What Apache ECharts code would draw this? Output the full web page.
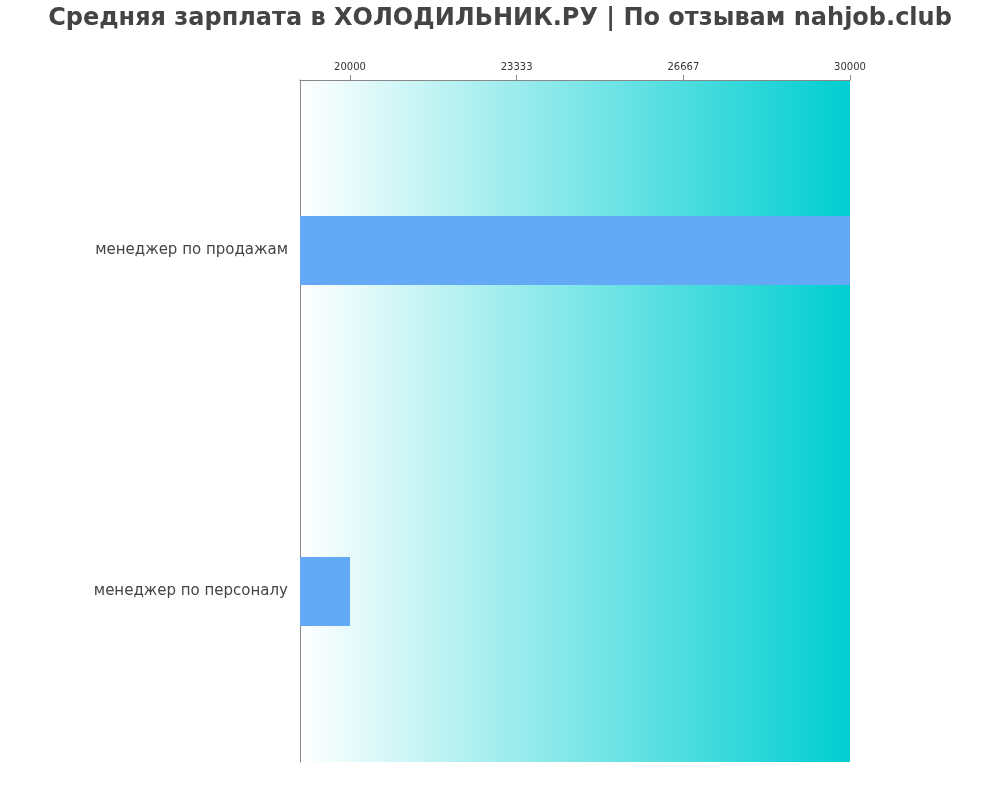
<!DOCTYPE html>
<html>
<head>
<meta charset="utf-8">
<script src="https://cdn.jsdelivr.net/npm/echarts@6/dist/echarts.min.js"></script>
<style>html,body{margin:0;padding:0;background:#fff}#chart{width:1000px;height:800px}</style>
</head>
<body>
<div id="chart"></div>
<script>
var categories = ['менеджер по продажам', 'менеджер по персоналу'];
var salaries = [30000, 20000];
var tickValues = [20000, 23333.33, 26666.67, 30000];

var myChart = echarts.init(document.getElementById('chart'));
var option = {
    title: {
        text: 'Средняя зарплата в ХОЛОДИЛЬНИК.РУ | По отзывам nahjob.club',
        left: 'center',
        top: 2,
        textStyle: { fontSize: 24, fontWeight: 'bold', color: '#444', fontFamily: 'DejaVu Sans' }
    },
    grid: {
        left: 300, right: 150, top: 80, bottom: 38,
        show: true,
        borderWidth: 0,
        backgroundColor: new echarts.graphic.LinearGradient(0, 0, 1, 0, [
            { offset: 0, color: '#ffffff' },
            { offset: 1, color: '#00ced1' }
        ])
    },
    xAxis: {
        type: 'value',
        position: 'top',
        min: 19000,
        max: 30000,
        splitLine: { show: false },
        axisLine: { show: true, lineStyle: { color: '#888' } },
        axisTick: { show: true, customValues: tickValues, lineStyle: { color: '#888' } },
        axisLabel: {
            customValues: tickValues,
            formatter: function (v) { return Math.round(v); },
            color: '#333', fontSize: 10, fontFamily: 'DejaVu Sans'
        }
    },
    yAxis: {
        type: 'category',
        data: categories,
        inverse: true,
        axisLine: { show: true, lineStyle: { color: '#888' } },
        axisTick: { show: false },
        axisLabel: { color: '#444', fontSize: 15, margin: 12, fontFamily: 'DejaVu Sans' }
    },
    series: [{
        type: 'bar',
        data: salaries,
        barWidth: 69,
        itemStyle: { color: '#63a9f5' }
    }]
};
myChart.setOption(option, true);
</script>
</body>
</html>
